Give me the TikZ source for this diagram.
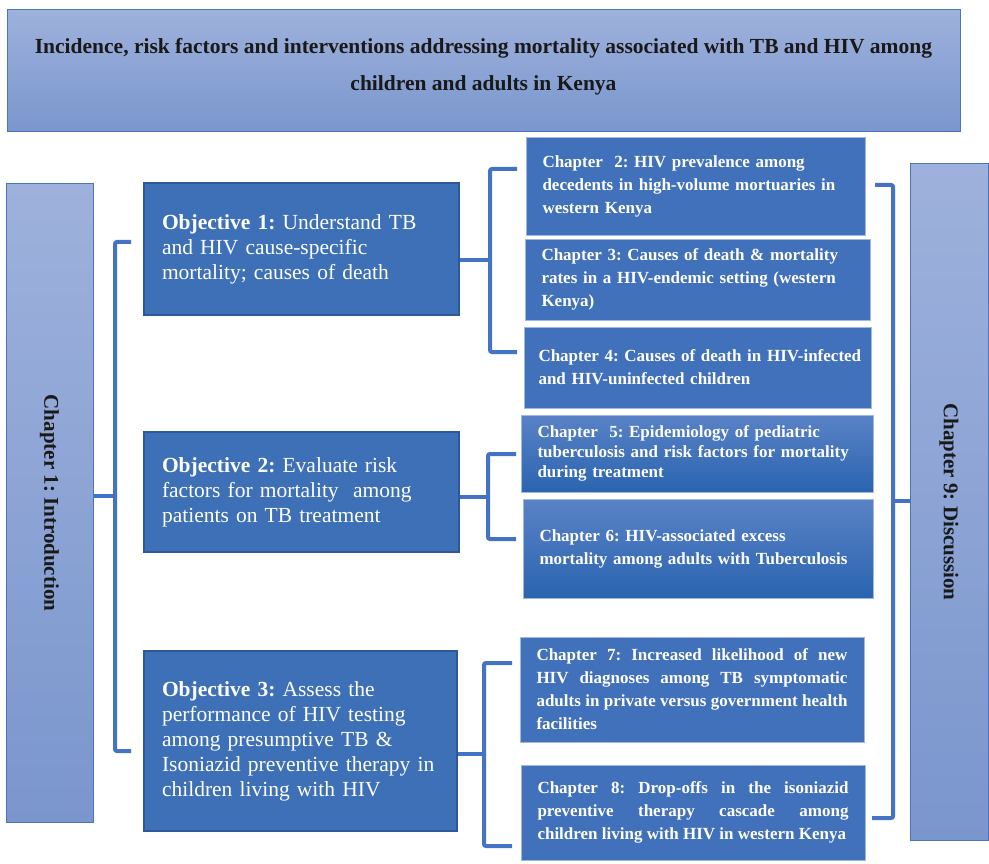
\documentclass[tikz,border=0pt]{standalone}
\usepackage{fontspec}
\setmainfont{Liberation Serif}
\frenchspacing
\usetikzlibrary{positioning}
\definecolor{paleblue}{RGB}{158,177,220}
\definecolor{midblue}{RGB}{122,150,205}
\definecolor{paleedge}{RGB}{74,116,192}
\definecolor{objblue}{RGB}{62,112,184}
\definecolor{objedge}{RGB}{45,88,156}
\definecolor{chblue}{RGB}{66,113,187}
\definecolor{chedge}{RGB}{160,185,225}
\definecolor{shadetop}{RGB}{90,130,198}
\definecolor{shadebot}{RGB}{42,100,176}
\definecolor{brkblue}{RGB}{68,114,196}
\tikzset{
  headbox/.style={draw=paleedge, line width=1pt, top color=paleblue, bottom color=midblue, inner sep=0pt},
  objbox/.style={draw=objedge, line width=1.5pt, fill=objblue, text=white, align=left, inner xsep=17pt,
      font=\fontsize{21.5}{25}\selectfont},
  chbox/.style={draw=chedge, line width=0.8pt, fill=chblue, text=white, align=left, inner xsep=16pt,
      font=\bfseries\fontsize{17}{23}\selectfont},
  chshade/.style={chbox, top color=shadetop, bottom color=shadebot},
  brk/.style={draw=brkblue, line width=4pt, rounded corners=2pt},
  sidetxt/.style={rotate=-90, text=black!90, font=\bfseries\fontsize{21}{25}\selectfont},
}

\begin{document}
\begin{tikzpicture}[x=1pt,y=-1pt]
\fill[white] (0,0) rectangle (989,864);
\useasboundingbox (0,0) rectangle (989,864);
% title and the two side columns
\node[headbox, minimum width=953pt, minimum height=122pt] (title) at (483.5,71) {};
\node[align=center, text=black!90, font=\bfseries\fontsize{21.5}{37}\selectfont] (titletxt) at (483.5,67)
  {Incidence, risk factors and interventions addressing mortality associated with TB and HIV among\\
   children and adults in Kenya};
\node[headbox, minimum width=87pt, minimum height=638pt] (ch1) at (49.5,503) {};
\node[sidetxt] (ch1txt) at (ch1.center) {Chapter 1: Introduction};
\node[headbox, minimum width=78pt, minimum height=676pt] (ch9) at (949,502) {};
\node[sidetxt] (ch9txt) at (ch9.center) {Chapter 9: Discussion};
% objectives
\node[objbox, text width=279pt, minimum width=315pt, minimum height=132pt] (obj1) at (301.5,249)
  {\textbf{Objective 1:} Understand TB\\and HIV cause-specific\\mortality; causes of death};
\node[objbox, text width=279pt, minimum width=315pt, minimum height=120pt] (obj2) at (301.5,492)
  {\textbf{Objective 2:} Evaluate risk\\factors for mortality\ \ among\\patients on TB treatment};
\node[objbox, text width=277pt, minimum width=313pt, minimum height=180pt] (obj3) at (300.5,741)
  {\textbf{Objective 3:} Assess the\\performance of HIV testing\\among presumptive TB \&\\
   Isoniazid preventive therapy in\\children living with HIV};
% chapters
\node[chbox, text width=306pt, minimum width=339pt, minimum height=98pt] (ch2) at (695.5,186)
  {Chapter\ \ 2: HIV prevalence among\\decedents in high-volume mortuaries in\\western Kenya};
\node[chbox, text width=312pt, minimum width=345pt, minimum height=81pt] (ch3) at (697.5,279.5)
  {Chapter 3: Causes of death \& mortality\\rates in a HIV-endemic setting (western\\Kenya)};
\node[chbox, inner xsep=14pt, text width=318pt, minimum width=347pt, minimum height=81pt] (ch4) at (697.5,367.5)
  {\hbox{Chapter 4: Causes of death in HIV-infected}\\and HIV-uninfected children};
\node[chshade, text width=319pt, minimum width=352pt, minimum height=77pt,
  font=\bfseries\fontsize{17}{20}\selectfont] (ch5) at (697,453.5)
  {Chapter\ \ 5: Epidemiology of pediatric\\tuberculosis and risk factors for mortality\\during treatment};
\node[chshade, text width=317pt, minimum width=350pt, minimum height=99pt] (ch6) at (698,548.5)
  {Chapter 6: HIV-associated excess\\mortality among adults with Tuberculosis};
\node[chbox, align=justify, text width=311pt, minimum width=344pt, minimum height=105pt] (ch7) at (692,689.5)
  {Chapter 7: Increased likelihood of new\linebreak HIV diagnoses among TB symptomatic\linebreak
   adults in private versus government health\linebreak facilities};
\node[chbox, align=justify, text width=311pt, minimum width=344pt, minimum height=95pt] (ch8) at (693,812.5)
  {Chapter 8: Drop-offs in the isoniazid\linebreak preventive therapy cascade among\linebreak
   children living with HIV in western Kenya};
% brackets
\coordinate (l0) at (115,496);
\draw[brk] (131,242) -- (115,242) -- (115,751) -- (131,751);
\draw[brk] (l0) -- (l0 -| ch1.east);
\coordinate (b1) at (490,260);
\draw[brk] (517,169) -- (490,169) -- (490,352) -- (517,352);
\draw[brk] (b1) -- (b1 -| obj1.east);
\coordinate (b2) at (488,497);
\draw[brk] (516,454) -- (488,454) -- (488,539) -- (516,539);
\draw[brk] (b2) -- (b2 -| obj2.east);
\coordinate (b3) at (484,754);
\draw[brk] (512,663) -- (484,663) -- (484,846) -- (512,846);
\draw[brk] (b3) -- (b3 -| obj3.east);
\coordinate (r0) at (893,501);
\draw[brk] (875,185) -- (893,185) -- (893,818) -- (872,818);
\draw[brk] (r0) -- (r0 -| ch9.west);
\end{tikzpicture}
\end{document}
